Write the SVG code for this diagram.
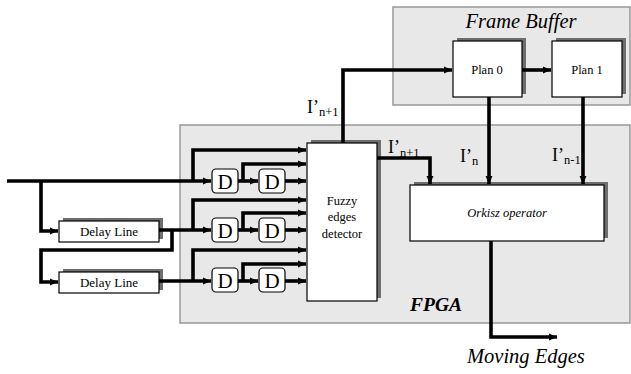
<svg xmlns="http://www.w3.org/2000/svg" width="631" height="374" viewBox="0 0 631 374">
<defs>
<marker id="ah" markerUnits="userSpaceOnUse" markerWidth="10" markerHeight="10" refX="8" refY="4" orient="auto">
<path d="M0,0.5 L8,4 L0,7.5 Z" fill="#000"/>
</marker>
<style>
.area{fill:#e8e8e8;stroke:#999;stroke-width:1.5}
.sh{fill:#6e6e6e}
.box{fill:#fff;stroke:#000;stroke-width:1.2}
.d{fill:#fff;stroke:#000;stroke-width:1.2}
.w{fill:none;stroke:#000;stroke-width:3.6;marker-end:url(#ah)}
text{font-family:"Liberation Serif","Times New Roman",serif;fill:#000}
.c{text-anchor:middle}
.it{font-style:italic}
</style>
</defs>
<g id="frame-buffer">
<rect class="area" x="393" y="7" width="237" height="98"/>
<text class="c it" x="521" y="28" font-size="20.5">Frame Buffer</text>
</g>
<g id="fpga">
<rect class="area" x="180" y="125" width="450" height="198"/>
<text class="it" x="410" y="311" font-size="19.5" font-weight="bold">FPGA</text>
</g>
<g id="plan0">
<rect class="sh" x="457" y="38" width="69" height="56"/>
<rect class="box" x="453" y="41" width="69" height="56"/>
<text class="c" x="487" y="74" font-size="12.5">Plan 0</text>
</g>
<g id="plan1">
<rect class="sh" x="556" y="38" width="70" height="56"/>
<rect class="box" x="552" y="41" width="70" height="56"/>
<text class="c" x="587" y="74" font-size="12.5">Plan 1</text>
</g>
<g id="orkisz">
<rect class="sh" x="414" y="182" width="194" height="56"/>
<rect class="box" x="410" y="185" width="194" height="56"/>
<text class="c it" x="507" y="217" font-size="12.5">Orkisz operator</text>
</g>
<g id="fuzzy">
<rect class="sh" x="311" y="140" width="70" height="158"/>
<rect class="box" x="307" y="143" width="70" height="158"/>
<text class="c" x="342" y="205" font-size="12.5">Fuzzy</text>
<text class="c" x="342" y="221" font-size="12.5">edges</text>
<text class="c" x="342" y="238" font-size="12.5">detector</text>
</g>
<g id="delay1">
<rect class="sh" x="63" y="218" width="100" height="21"/>
<rect class="box" x="59" y="221" width="100" height="21"/>
<text class="c" x="109" y="236" font-size="13">Delay Line</text>
</g>
<g id="delay2">
<rect class="sh" x="63" y="269" width="100" height="21"/>
<rect class="box" x="59" y="272" width="100" height="21"/>
<text class="c" x="109" y="287" font-size="13">Delay Line</text>
</g>
<g id="d11"><rect class="d" x="212" y="169" width="26" height="24" rx="4"/><text class="c" x="225" y="189" font-size="21">D</text></g>
<g id="d12"><rect class="d" x="259" y="169" width="26" height="24" rx="4"/><text class="c" x="272" y="189" font-size="21">D</text></g>
<g id="d21"><rect class="d" x="212" y="218" width="26" height="24" rx="4"/><text class="c" x="225" y="238" font-size="21">D</text></g>
<g id="d22"><rect class="d" x="259" y="218" width="26" height="24" rx="4"/><text class="c" x="272" y="238" font-size="21">D</text></g>
<g id="d31"><rect class="d" x="212" y="268" width="26" height="24" rx="4"/><text class="c" x="225" y="288" font-size="21">D</text></g>
<g id="d32"><rect class="d" x="259" y="268" width="26" height="24" rx="4"/><text class="c" x="272" y="288" font-size="21">D</text></g>
<g id="connectors">
<path class="w" d="M7,181 H211"/>
<path class="w" d="M41,181 V231 H58"/>
<path class="w" d="M159,230 H211"/>
<path class="w" d="M172,230 V250 H41 V282 H58"/>
<path class="w" d="M159,281 H211"/>
<path class="w" d="M193,181 V150 H306"/>
<path class="w" d="M193,230 V200 H306"/>
<path class="w" d="M193,281 V250 H306"/>
<path class="w" d="M238,181 H258"/>
<path class="w" d="M238,230 H258"/>
<path class="w" d="M238,281 H258"/>
<path class="w" d="M243,181 V164 H306"/>
<path class="w" d="M243,230 V213 H306"/>
<path class="w" d="M243,281 V264 H306"/>
<path class="w" d="M285,181 H306"/>
<path class="w" d="M285,230 H306"/>
<path class="w" d="M285,281 H306"/>
<path class="w" d="M343,143 V70 H452"/>
<path class="w" d="M522,70 H551"/>
<path class="w" d="M377,158 H430 V184"/>
<path class="w" d="M489,97 V184"/>
<path class="w" d="M583,97 V184"/>
<path class="w" d="M491,241 V337 H557"/>
</g>
<g id="labels">
<text x="307" y="113" font-size="18">I’<tspan font-size="12.5" dy="3">n+1</tspan></text>
<text x="388" y="153" font-size="18">I’<tspan font-size="12.5" dy="4">n+1</tspan></text>
<text x="460" y="162" font-size="18">I’<tspan font-size="12.5" dy="3">n</tspan></text>
<text x="552" y="161" font-size="18">I’<tspan font-size="12.5" dy="3">n-1</tspan></text>
<text class="it" x="467" y="363" font-size="20.5">Moving Edges</text>
</g>
</svg>
